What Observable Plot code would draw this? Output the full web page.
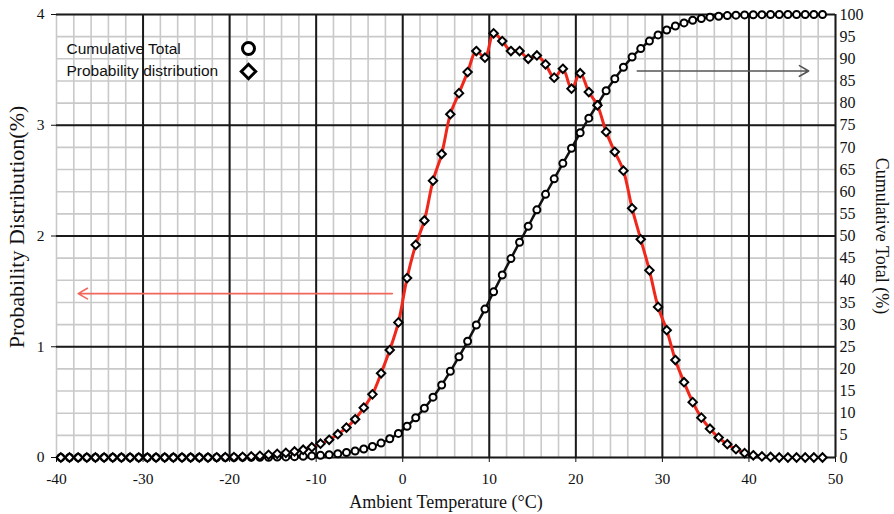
<!DOCTYPE html>
<html><head><meta charset="utf-8">
<script src="https://cdn.jsdelivr.net/npm/d3@7"></script>
<script src="https://cdn.jsdelivr.net/npm/@observablehq/plot@0.6"></script>
<style>body{margin:0;background:#fff}</style>
</head><body><div id="chart"></div>
<script>
// Ambient temperature bin centres (°C)
const temps = [-39.5,-38.5,-37.5,-36.5,-35.5,-34.5,-33.5,-32.5,-31.5,-30.5,
  -29.5,-28.5,-27.5,-26.5,-25.5,-24.5,-23.5,-22.5,-21.5,-20.5,
  -19.5,-18.5,-17.5,-16.5,-15.5,-14.5,-13.5,-12.5,-11.5,-10.5,
  -9.5,-8.5,-7.5,-6.5,-5.5,-4.5,-3.5,-2.5,-1.5,-0.5,
  0.5,1.5,2.5,3.5,4.5,5.5,6.5,7.5,8.5,9.5,
  10.5,11.5,12.5,13.5,14.5,15.5,16.5,17.5,18.5,19.5,
  20.5,21.5,22.5,23.5,24.5,25.5,26.5,27.5,28.5,29.5,
  30.5,31.5,32.5,33.5,34.5,35.5,36.5,37.5,38.5,39.5,
  40.5,41.5,42.5,43.5,44.5,45.5,46.5,47.5,48.5];
// Probability distribution (%)
const prob = [0,0,0,0,0,0,0,0,0,0,
  0,0,0,0,0,0,0,0,0.002,0.003,
  0.004,0.006,0.01,0.015,0.024,0.033,0.042,0.055,0.07,0.093,
  0.125,0.16,0.21,0.27,0.345,0.45,0.57,0.76,0.97,1.22,
  1.62,1.92,2.14,2.50,2.74,3.10,3.29,3.48,3.67,3.61,
  3.83,3.76,3.67,3.67,3.60,3.63,3.55,3.43,3.51,3.33,
  3.47,3.30,3.18,2.94,2.76,2.59,2.25,1.97,1.69,1.36,
  1.15,0.88,0.68,0.50,0.36,0.26,0.18,0.12,0.075,0.04,
  0.02,0.01,0.005,0,0,0,0,0,0];
// Cumulative total (%)
const cumulative = [0,0,0,0,0,0,0,0,0,0,
  0,0,0,0,0,0,0,0,0,0.01,
  0.01,0.02,0.03,0.04,0.06,0.1,0.14,0.19,0.26,0.36,
  0.48,0.64,0.85,1.12,1.47,1.92,2.49,3.25,4.22,5.44,
  7.06,8.98,11.12,13.62,16.36,19.46,22.75,26.23,29.9,33.5,
  37.4,41.2,44.9,48.6,52.2,55.9,59.4,62.9,66.4,69.8,
  73.3,76.6,79.7,82.8,85.5,88.1,90.4,92.3,94.0,95.4,
  96.5,97.4,98.1,98.7,99.1,99.4,99.6,99.75,99.85,99.9,
  99.95,99.97,100,100,100,100,100,100,100];

const xTicks = [-40,-30,-20,-10,0,10,20,30,40,50];
const xMinorTicks = [-40,-38,-36,-34,-32,-30,-28,-26,-24,-22,-20,-18,-16,-14,-12,-10,-8,-6,-4,-2,
  0,2,4,6,8,10,12,14,16,18,20,22,24,26,28,30,32,34,36,38,40,42,44,46,48,50];
const xMajorGrid = [-30,-20,-10,0,10,20,30,40,50];
const yLeftTicks = [0,1,2,3,4];
const yRightTicks = [0,5,10,15,20,25,30,35,40,45,50,55,60,65,70,75,80,85,90,95,100];
const rightPerLeft = 25; // 100 % on the right axis == 4 % on the left axis

const legendNames = ["Cumulative Total", "Probability distribution"];
const arrowLeft = [{x1: -1.2, x2: -37.5, y: 1.48}];
const arrowRight = [{x1: 27.1, x2: 46.9, y: 3.49}];

const data = temps.map((t, i) => ({t, p: prob[i], c: cumulative[i]}));
const serif = "'Liberation Serif', 'Times New Roman', serif";
const sans = "'Liberation Sans', Arial, sans-serif";

const chart = Plot.plot({
  width: 894,
  height: 514,
  marginLeft: 56,
  marginRight: 59,
  marginTop: 14,
  marginBottom: 57,
  style: {fontFamily: serif, fontSize: "15.5px", background: "#fff", color: "#111"},
  x: {domain: [-40, 50]},
  y: {domain: [0, 4]},
  marks: [
    Plot.ruleX(xMinorTicks, {stroke: "#c9c9c9", strokeWidth: 1.6}),
    Plot.ruleY(yRightTicks.map(v => v / rightPerLeft), {stroke: "#c9c9c9", strokeWidth: 1.6}),
    Plot.ruleX(xMajorGrid, {stroke: "#1a1a1a", strokeWidth: 2}),
    Plot.ruleY(yLeftTicks, {stroke: "#1a1a1a", strokeWidth: 2}),
    Plot.axisX(xTicks, {tickSize: 5, tickPadding: 10, fontSize: 15.5, tickFormat: d => String(d), label: null}),
    Plot.axisY(yLeftTicks, {anchor: "left", tickSize: 5, tickPadding: 7, fontSize: 15.5, tickFormat: d => String(d), label: null}),
    Plot.axisY(yRightTicks.map(v => v / rightPerLeft), {anchor: "right", tickSize: 0, tickPadding: 4, fontSize: 16,
      tickFormat: d => String(Math.round(d * rightPerLeft)), label: null}),
    Plot.arrow(arrowLeft, {x1: "x1", x2: "x2", y1: "y", y2: "y", stroke: "#f2675c", strokeWidth: 1.6, headLength: 10, headAngle: 60}),
    Plot.arrow(arrowRight, {x1: "x1", x2: "x2", y1: "y", y2: "y", stroke: "#555", strokeWidth: 1.6, headLength: 10, headAngle: 60}),
    Plot.line(data, {x: "t", y: d => d.c / rightPerLeft, stroke: "#111", strokeWidth: 2.5, curve: "catmull-rom"}),
    Plot.dot(data, {x: "t", y: d => d.c / rightPerLeft, r: 3.5, stroke: "#000", strokeWidth: 2, fill: "#fff"}),
    Plot.line(data, {x: "t", y: "p", stroke: "#f0281c", strokeWidth: 3, curve: "catmull-rom"}),
    Plot.dot(data, {x: "t", y: "p", symbol: "diamond2", r: 3.8, stroke: "#000", strokeWidth: 2, fill: "#fff"}),
    // legend
    Plot.text([legendNames[0]], {frameAnchor: "top-left", dx: 10, dy: 35, textAnchor: "start", lineAnchor: "middle", fontFamily: sans, fontSize: 15.5, fill: "#111"}),
    Plot.text([legendNames[1]], {frameAnchor: "top-left", dx: 10, dy: 57, textAnchor: "start", lineAnchor: "middle", fontFamily: sans, fontSize: 15.5, fill: "#111"}),
    Plot.dot([legendNames[0]], {frameAnchor: "top-left", dx: 192, dy: 34, r: 6, stroke: "#000", strokeWidth: 3, fill: "#fff"}),
    Plot.dot([legendNames[1]], {frameAnchor: "top-left", dx: 192, dy: 57, symbol: "diamond2", r: 6.5, stroke: "#000", strokeWidth: 3, fill: "#fff"}),
    // axis titles
    Plot.text(["Probability Distribution(%)"], {frameAnchor: "left", dx: -40, dy: -9, rotate: -90, textAnchor: "middle", lineAnchor: "middle", fontSize: 22, fill: "#111"}),
    Plot.text(["Cumulative Total (%)"], {frameAnchor: "right", dx: 46, dy: 0, rotate: 90, textAnchor: "middle", lineAnchor: "middle", fontSize: 18, fill: "#111"}),
    Plot.text(["Ambient Temperature (°C)"], {frameAnchor: "bottom", dy: 45, textAnchor: "middle", lineAnchor: "middle", fontSize: 18, fill: "#111"})
  ]
});
document.getElementById("chart").appendChild(chart);
</script>
</body></html>
